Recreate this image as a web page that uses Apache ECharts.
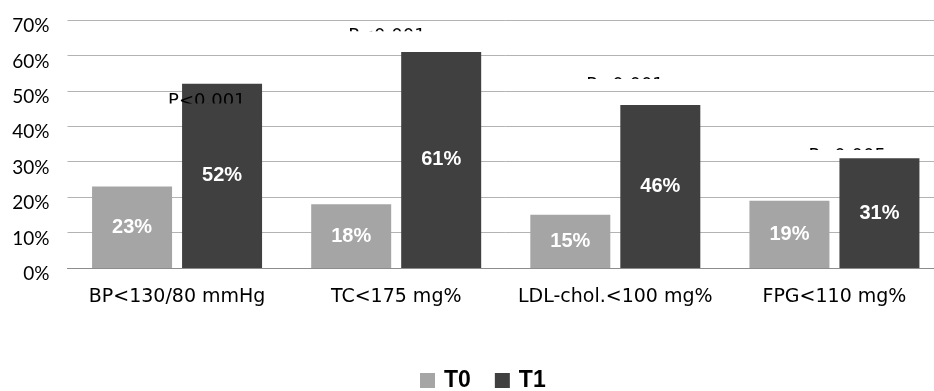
<!DOCTYPE html>
<html>
<head>
<meta charset="utf-8">
<script src="https://cdn.jsdelivr.net/npm/echarts@6/dist/echarts.min.js"></script>
<style>
html,body{margin:0;padding:0;background:#fff;overflow:hidden;}
#chart{width:944px;height:391px;}
</style>
</head>
<body>
<div id="chart"></div>
<script>
// ---- data ----
var categories = ['BP<130/80 mmHg', 'TC<175 mg%', 'LDL-chol.<100 mg%', 'FPG<110 mg%'];
var seriesNames = ['T0', 'T1'];
var t0Values = [23, 18, 15, 19];
var t1Values = [52, 61, 46, 31];
var yTicks = [0, 10, 20, 30, 40, 50, 60, 70];
var pLabels = ['P<0.001', 'P<0.001', 'P<0.001', 'P<0.005'];
var pLabelAnchor = [49.4, 67.7, 53.9, 33.9]; // value-axis level of the label top

// ---- layout (styles / positions) ----
var pLabelDx = [-9, -48, -29, -26];
var pLabelVisible = [10.5, 3, 2, 2];

var chart = echarts.init(document.getElementById('chart'), null, {renderer: 'canvas'});
var labelFont = '"DejaVu Sans", sans-serif';

var option = {
  animation: false,
  backgroundColor: '#ffffff',
  grid: {left: 67.5, top: 20, right: 0, height: 248, containLabel: false},
  legend: {
    data: seriesNames,
    left: 420, top: 369,
    padding: 0,
    itemWidth: 15, itemHeight: 15, itemGap: 24,
    icon: 'rect',
    textStyle: {fontFamily: '"Liberation Sans", Arial, sans-serif', fontWeight: 'bold', fontSize: 23, color: '#000', padding: [0, 0, 0, 4]}
  },
  xAxis: {
    type: 'category',
    data: categories,
    axisLine: {show: true, lineStyle: {color: '#8c8c8c', width: 1}},
    axisTick: {show: false},
    axisLabel: {color: '#000', fontFamily: labelFont, fontSize: 19, margin: 20, interval: 0}
  },
  yAxis: {
    type: 'value',
    min: yTicks[0], max: yTicks[yTicks.length - 1], interval: 10,
    axisLine: {show: false},
    axisTick: {show: false},
    splitLine: {lineStyle: {color: '#b3b3b3', width: 1}},
    axisLabel: {
      color: '#000', fontFamily: 'Lato, "Open Sans", sans-serif', fontSize: 19, margin: 18,
      verticalAlign: 'top', lineHeight: 12,
      formatter: function (v) { return v + '%'; }
    }
  },
  series: [
    {
      name: seriesNames[0], type: 'bar', data: t0Values,
      barWidth: 80, barGap: '12.5%',
      itemStyle: {color: '#a5a5a5'},
      label: {show: true, position: 'inside', color: '#fff', fontWeight: 'bold', fontSize: 20,
        fontFamily: '"Liberation Sans", Arial, sans-serif', formatter: '{c}%'}
    },
    {
      name: seriesNames[1], type: 'bar', data: t1Values,
      barWidth: 80, barGap: '12.5%',
      itemStyle: {color: '#404040'},
      label: {show: true, position: 'inside', color: '#fff', fontWeight: 'bold', fontSize: 20,
        fontFamily: '"Liberation Sans", Arial, sans-serif', formatter: '{c}%'}
    },
    {
      name: 'P', type: 'custom', z: 5, silent: true,
      data: pLabelAnchor.map(function (v, i) { return [i, v]; }),
      renderItem: function (params, api) {
        var i = params.dataIndex;
        var pt = api.coord([api.value(0), api.value(1)]);
        return {
          type: 'text',
          x: pt[0] + pLabelDx[i],
          y: pt[1] - 1,
          style: {
            text: pLabels[i],
            fill: '#000',
            font: '18px ' + labelFont,
            textAlign: 'left',
            textVerticalAlign: 'top'
          },
          clipPath: {
            type: 'rect',
            shape: {x: -5, y: -5, width: 120, height: 5 + 1 + pLabelVisible[i]}
          }
        };
      }
    }
  ]
};
chart.setOption(option);
</script>
</body>
</html>
